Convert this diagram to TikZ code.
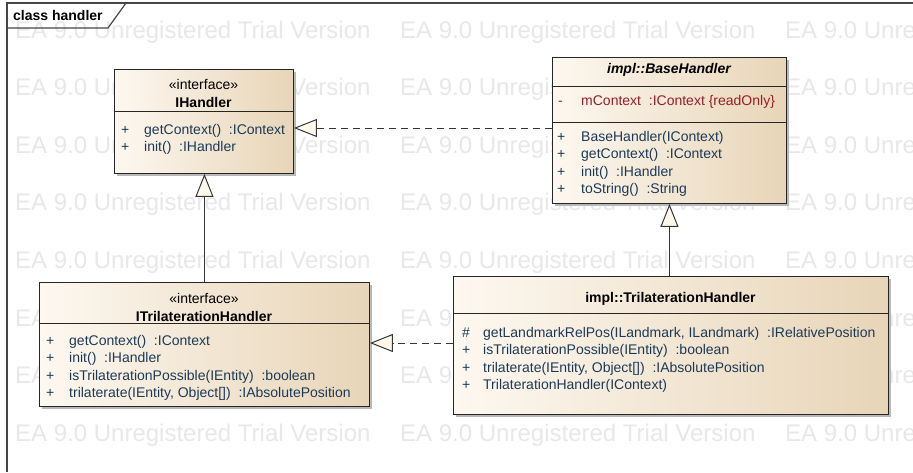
\documentclass[tikz,border=0pt]{standalone}
\usepackage{fontspec}
\setmainfont{Liberation Sans}
\usetikzlibrary{arrows.meta,shadows}
\definecolor{boxL}{RGB}{253,248,240}
\definecolor{boxR}{RGB}{232,213,184}
\definecolor{memc}{RGB}{28,58,88}
\definecolor{attc}{RGB}{150,30,40}
\definecolor{wmc}{RGB}{232,232,232}
\definecolor{framec}{RGB}{70,70,70}
\definecolor{linec}{RGB}{55,55,55}
\definecolor{tipfill}{RGB}{255,248,235}
\begin{document}
\begin{tikzpicture}[x=1pt,y=-1pt,
  wm/.style={text=wmc, font=\fontsize{24}{28}\selectfont, anchor=base west, inner sep=0},
  cls/.style={draw=black!85, line width=0.9pt, left color=boxL, right color=boxR,
    anchor=north west, inner sep=0,
    general shadow={fill=black!28, shadow xshift=3pt, shadow yshift=-3pt}},
  divl/.style={draw=black!85, line width=0.9pt},
  mem/.style={text=memc, font=\fontsize{14}{17}\selectfont, anchor=base west, inner sep=0},
  att/.style={text=attc, font=\fontsize{14}{17}\selectfont, anchor=base west, inner sep=0},
  ttl/.style={text=black, font=\bfseries\fontsize{14}{17}\selectfont, anchor=base, inner sep=0},
  ster/.style={text=black, font=\fontsize{14}{17}\selectfont, anchor=base, inner sep=0},
  conn/.style={draw=linec, line width=1pt},
  dashconn/.style={conn, dash pattern=on 7pt off 5pt},
  realize/.style={-{Triangle[length=23pt,width=18pt,fill=tipfill]}}
]
\useasboundingbox (0,0) rectangle (913,472);
\fill[white] (0,0) rectangle (913,472);

% watermark
\foreach \yy in {38,95.6,153.2,210.8,268.4,326,383.6,441.2}{
  \foreach \xx in {15,400,785}{
    \node[wm] at (\xx,\yy) {EA 9.0 Unregistered Trial Version};
  }
}

% frame
\draw[framec, line width=1.5pt] (7,472) -- (7,3) -- (913,3);
\draw[framec, line width=1.2pt] (7,28) -- (108,28) -- (126,3);
\node[anchor=base west, inner sep=0, font=\bfseries\fontsize{14}{17}\selectfont] (frm) at (13,20) {class handler};

% IHandler
\node[cls, minimum width=179pt, minimum height=104pt] (ih) at (114,69) {};
\draw[divl] (ih.west |- 0,111) -- (ih.east |- 0,111);
\node[ster] (ihs) at (203.5,89) {«interface»};
\node[ttl] (iht) at (203.5,107) {IHandler};
\node[mem] (ihm1) at (121,134) {+};
\node[mem] (ihm1t) at (144,134) {getContext()~~:IContext};
\node[mem] (ihm2) at (121,151.6) {+};
\node[mem] (ihm2t) at (144,151.6) {init()~~:IHandler};

% BaseHandler
\node[cls, minimum width=234pt, minimum height=146pt] (bh) at (552,57) {};
\draw[divl] (bh.west |- 0,86) -- (bh.east |- 0,86);
\draw[divl] (bh.west |- 0,122) -- (bh.east |- 0,122);
\node[ttl, font=\bfseries\itshape\fontsize{14}{17}\selectfont] (bht) at (669,73) {impl::BaseHandler};
\node[att] (bha) at (558,105) {-};
\node[att] (bhat) at (581,105) {mContext~~:IContext \{readOnly\}};
\node[mem] (bhm1) at (557,141) {+};
\node[mem] (bhm1t) at (581,141) {BaseHandler(IContext)};
\node[mem] (bhm2) at (557,158.6) {+};
\node[mem] (bhm2t) at (581,158.6) {getContext()~~:IContext};
\node[mem] (bhm3) at (557,176.2) {+};
\node[mem] (bhm3t) at (581,176.2) {init()~~:IHandler};
\node[mem] (bhm4) at (557,193.8) {+};
\node[mem] (bhm4t) at (581,193.8) {toString()~~:String};

% ITrilaterationHandler
\node[cls, minimum width=330pt, minimum height=124pt] (ith) at (39,282) {};
\draw[divl] (ith.west |- 0,323) -- (ith.east |- 0,323);
\node[ster] (iths) at (204,303.5) {«interface»};
\node[ttl] (itht) at (204,321) {ITrilaterationHandler};
\node[mem] (ithm1) at (46,345) {+};
\node[mem] (ithm1t) at (69,345) {getContext()~~:IContext};
\node[mem] (ithm2) at (46,362.6) {+};
\node[mem] (ithm2t) at (69,362.6) {init()~~:IHandler};
\node[mem] (ithm3) at (46,380.2) {+};
\node[mem] (ithm3t) at (69,380.2) {isTrilaterationPossible(IEntity)~~:boolean};
\node[mem] (ithm4) at (46,397.8) {+};
\node[mem] (ithm4t) at (69,397.8) {trilaterate(IEntity, Object[])~~:IAbsolutePosition};

% TrilaterationHandler
\node[cls, minimum width=435pt, minimum height=138pt] (th) at (453,276) {};
\draw[divl] (th.west |- 0,313) -- (th.east |- 0,313);
\node[ttl] (tht) at (670.5,302) {impl::TrilaterationHandler};
\node[mem] (thm1) at (462,337) {\#};
\node[mem] (thm1t) at (483,337) {getLandmarkRelPos(ILandmark, ILandmark)~~:IRelativePosition};
\node[mem] (thm2) at (462,354.6) {+};
\node[mem] (thm2t) at (483,354.6) {isTrilaterationPossible(IEntity)~~:boolean};
\node[mem] (thm3) at (462,372.2) {+};
\node[mem] (thm3t) at (483,372.2) {trilaterate(IEntity, Object[])~~:IAbsolutePosition};
\node[mem] (thm4) at (462,389.8) {+};
\node[mem] (thm4t) at (483,389.8) {TrilaterationHandler(IContext)};

% connectors
\coordinate (d1) at (0,128);
\coordinate (d2) at (0,343);
\draw[dashconn, realize] (bh.west |- d1) -- (ih.east |- d1);
\draw[dashconn, realize] (th.west |- d2) -- (ith.east |- d2);
\draw[conn, realize] (ith.north) -- (ith.north |- ih.south);
\draw[conn, realize] (bh.south |- th.north) -- (bh.south);
\end{tikzpicture}
\end{document}
